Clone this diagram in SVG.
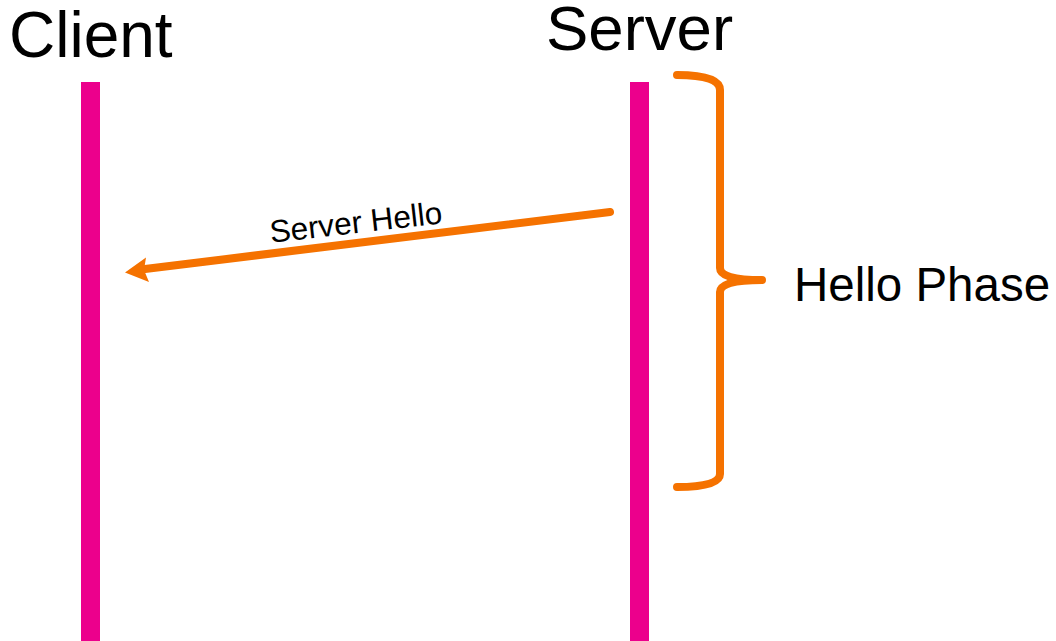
<svg xmlns="http://www.w3.org/2000/svg" width="1056" height="641" viewBox="0 0 1056 641">
  <style>
    .label { font-family: "Liberation Sans", Arial, sans-serif; fill: #000; }
    .lifeline { fill: #EC008C; }
    .orange { stroke: #F57200; fill: none; stroke-width: 8; stroke-linecap: round; stroke-linejoin: round; }
  </style>
  <rect width="1056" height="641" fill="#fff"/>

  <g id="client">
    <text class="label" x="9" y="57" font-size="64">Client</text>
    <rect class="lifeline" x="81" y="82" width="19" height="559"/>
  </g>

  <g id="server">
    <text class="label" x="546" y="50" font-size="63.5">Server</text>
    <rect class="lifeline" x="630" y="82" width="19" height="559"/>
  </g>

  <g id="hello-phase">
    <path class="orange" d="M677,75 Q720,75 720,90 L720,268 Q720,280 762,280 Q720,280 720,292 L720,474 Q720,487 677,487"/>
    <text class="label" x="794" y="301" font-size="47.5">Hello Phase</text>
  </g>

  <g id="connectors">
    <line class="orange" x1="610" y1="212" x2="145" y2="269"/>
    <polygon points="125,272.5 146,257.5 144,270 149,282" fill="#F57200"/>
    <text class="label" x="357" y="233" font-size="31.5" text-anchor="middle" transform="rotate(-6.5 357 233)">Server Hello</text>
  </g>
</svg>
